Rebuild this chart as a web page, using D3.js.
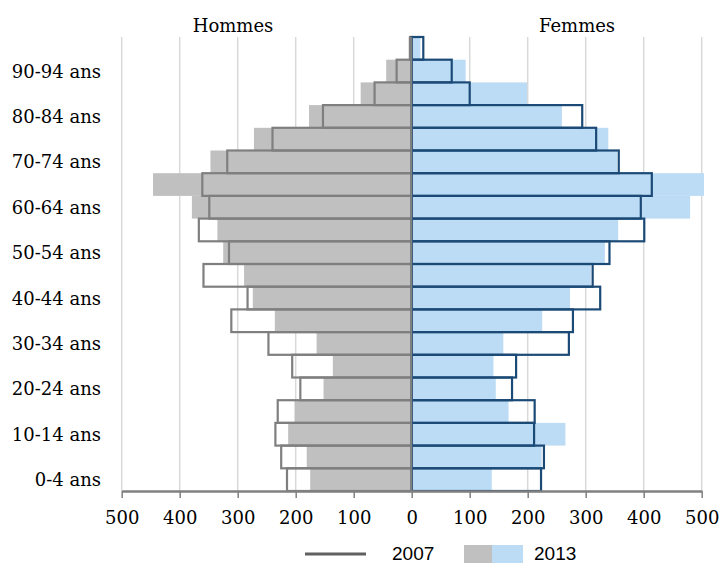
<!DOCTYPE html>
<html>
<head>
<meta charset="utf-8">
<script src="https://cdn.jsdelivr.net/npm/d3@7"></script>
<style>
  html, body { margin: 0; padding: 0; background: #fff; }
  svg { display: block; }
</style>
</head>
<body>
<svg id="chart" width="726" height="564"></svg>
<script>
const ages = ["0-4 ans","5-9 ans","10-14 ans","15-19 ans","20-24 ans","25-29 ans","30-34 ans","35-39 ans",
  "40-44 ans","45-49 ans","50-54 ans","55-59 ans","60-64 ans","65-69 ans","70-74 ans","75-79 ans",
  "80-84 ans","85-89 ans","90-94 ans","95 ans et +"];
const hommes2013 = [175,181,213,202,152,136,164,236,274,289,325,335,379,446,347,272,177,88,44,5];
const hommes2007 = [215,225,235,231,192,206,247,311,283,359,315,367,349,361,318,240,153,64,26,3];
const femmes2013 = [138,224,265,167,145,141,158,225,273,309,333,356,480,504,354,339,259,199,93,15];
const femmes2007 = [223,228,211,212,173,180,271,278,325,312,341,401,395,414,357,318,294,100,69,20];
const ticks = [0,100,200,300,400,500];
const sideTitles = ["Hommes","Femmes"];
const legendLabels = ["2007","2013"];

const svg = d3.select("#chart");
const cx = 411.7, half = 290, plotTop = 37, plotBottom = 491;
const xL = d3.scaleLinear().domain([0,500]).range([cx, cx - half]);
const xR = d3.scaleLinear().domain([0,500]).range([cx, cx + half]);
const y = d3.scaleBand().domain(ages).range([plotBottom, plotTop]).padding(0);

const serif = "'DejaVu Serif', serif";
const cMenFill = "#c0c0c0", cMenLine = "#7f7f7f";
const cWomFill = "#bcdcf6", cWomLine = "#1c4a76";

// gridlines
const grid = svg.append("g");
ticks.filter(t => t > 0).forEach(t => {
  [xL(t), xR(t)].forEach(x => {
    grid.append("line").attr("x1", x).attr("x2", x).attr("y1", plotTop).attr("y2", plotBottom)
      .attr("stroke", "#d9d9d9").attr("stroke-width", 1.5);
  });
});

// fills 2013
svg.append("g").selectAll("rect").data(ages).join("rect")
  .attr("x", (d,i) => xL(hommes2013[i])).attr("y", d => y(d))
  .attr("width", (d,i) => xL(0) - xL(hommes2013[i])).attr("height", y.bandwidth())
  .attr("fill", cMenFill);
svg.append("g").selectAll("rect").data(ages).join("rect")
  .attr("x", xR(0)).attr("y", d => y(d))
  .attr("width", (d,i) => xR(femmes2013[i]) - xR(0)).attr("height", y.bandwidth())
  .attr("fill", cWomFill);

// outlines 2007
svg.append("g").selectAll("rect").data(ages).join("rect")
  .attr("x", (d,i) => xL(hommes2007[i])).attr("y", d => y(d))
  .attr("width", (d,i) => xL(0) - xL(hommes2007[i])).attr("height", y.bandwidth())
  .attr("fill", "none").attr("stroke", cMenLine).attr("stroke-width", 2.2);
svg.append("g").selectAll("rect").data(ages).join("rect")
  .attr("x", xR(0)).attr("y", d => y(d))
  .attr("width", (d,i) => xR(femmes2007[i]) - xR(0)).attr("height", y.bandwidth())
  .attr("fill", "none").attr("stroke", cWomLine).attr("stroke-width", 2.2);

// center axis
svg.append("line").attr("x1", cx - 0.5).attr("x2", cx - 0.5).attr("y1", plotTop).attr("y2", plotBottom)
  .attr("stroke", "#808080").attr("stroke-width", 2);

// x axes
const axL = d3.axisBottom(xL).tickValues(ticks).tickSize(7).tickSizeOuter(0);
const axR = d3.axisBottom(xR).tickValues(ticks.filter(t => t > 0)).tickSize(7).tickSizeOuter(0);
[axL, axR].forEach(ax => {
  const g = svg.append("g").attr("transform", `translate(0,${plotBottom})`).call(ax);
  g.select(".domain").attr("stroke", "#808080").attr("stroke-width", 2.5);
  g.selectAll(".tick line").attr("stroke", "#808080").attr("stroke-width", 1.5);
  g.selectAll(".tick text").attr("font-family", serif).attr("font-size", 18)
    .attr("fill", "#000").attr("y", 0).attr("dy", 0).attr("transform", "translate(0,33)");
});

// y labels
svg.append("g").selectAll("text").data(ages.filter((d,i) => i % 2 === 0 && i < 19)).join("text")
  .attr("x", 101).attr("y", d => y(d) + y.bandwidth()/2)
  .attr("dominant-baseline", "central").attr("text-anchor", "end")
  .attr("font-family", serif).attr("font-size", 18).attr("fill", "#000")
  .text(d => d);

// side titles
svg.append("text").attr("x", 233).attr("y", 32).attr("text-anchor", "middle")
  .attr("font-family", serif).attr("font-size", 18).text(sideTitles[0]);
svg.append("text").attr("x", 577).attr("y", 32).attr("text-anchor", "middle")
  .attr("font-family", serif).attr("font-size", 18).text(sideTitles[1]);

// legend
const lg = svg.append("g");
lg.append("line").attr("x1", 305).attr("x2", 366).attr("y1", 554).attr("y2", 554)
  .attr("stroke", "#606060").attr("stroke-width", 3);
lg.append("text").attr("x", 392).attr("y", 560).attr("font-family", "'Liberation Sans', Arial, sans-serif")
  .attr("font-size", 19).text(legendLabels[0]);
lg.append("rect").attr("x", 464).attr("y", 545).attr("width", 28).attr("height", 18).attr("fill", cMenFill);
lg.append("rect").attr("x", 492).attr("y", 545).attr("width", 31).attr("height", 18).attr("fill", cWomFill);
lg.append("text").attr("x", 534).attr("y", 560).attr("font-family", "'Liberation Sans', Arial, sans-serif")
  .attr("font-size", 19).text(legendLabels[1]);
</script>
</body>
</html>
